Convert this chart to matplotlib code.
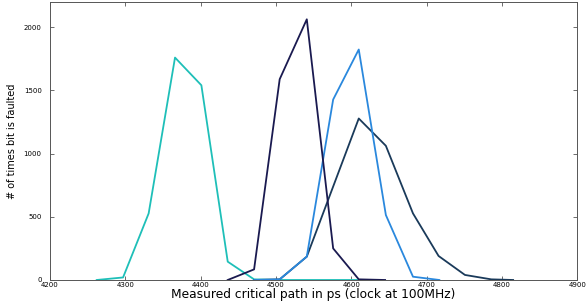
import matplotlib
matplotlib.use("Agg")
import matplotlib.pyplot as plt

# -------------------------
# Data
# -------------------------

x_cyan = [4262, 4297, 4331, 4366, 4401, 4436, 4471, 4506, 4541, 4576, 4611]
y_cyan = [0, 20, 527, 1760, 1541, 145, 5, 0, 0, 0, 0]

x_navy = [4436, 4471, 4505, 4541, 4576, 4610, 4645]
y_navy = [0, 84, 1589, 2063, 250, 5, 0]

x_blue = [4471, 4505, 4541, 4576, 4610, 4646, 4682, 4717]
y_blue = [0, 5, 185, 1428, 1824, 514, 26, 0]

x_teal = [4471, 4505, 4541, 4610, 4646, 4682, 4716, 4751, 4786, 4815]
y_teal = [0, 5, 185, 1278, 1062, 527, 190, 40, 5, 0]

series = [
    (x_cyan, y_cyan, "#1EBFB8"),
    (x_teal, y_teal, "#1A3A5A"),
    (x_blue, y_blue, "#2A88DD"),
    (x_navy, y_navy, "#1A1A50"),
]

xticks = [4200, 4300, 4400, 4500, 4600, 4700, 4800, 4900]
yticks = [0, 500, 1000, 1500, 2000]

# -------------------------
# Plot
# -------------------------

fig = plt.figure(figsize=(5.87, 3.06), dpi=100)
ax = fig.add_axes([0.0852, 0.085, 0.898, 0.9085])

for xs, ys, color in series:
    ax.plot(xs, ys, color=color, linewidth=1.3)

ax.set_xlim(4200, 4900)
ax.set_ylim(0, 2200)
ax.set_xticks(xticks)
ax.set_yticks(yticks)
ax.tick_params(direction="in", top=True, right=True, labelsize=5,
               length=3, width=0.6, color="#555555")
ax.tick_params(axis="x", pad=1.5)
ax.tick_params(axis="y", pad=6)
for s in ax.spines.values():
    s.set_color("#555555")
    s.set_linewidth(0.7)

ax.set_xlabel("Measured critical path in ps (clock at 100MHz)",
              fontsize=8.8, labelpad=0)
ax.set_ylabel("# of times bit is faulted", fontsize=7, labelpad=5)

fig.savefig("out.png", dpi=100)
